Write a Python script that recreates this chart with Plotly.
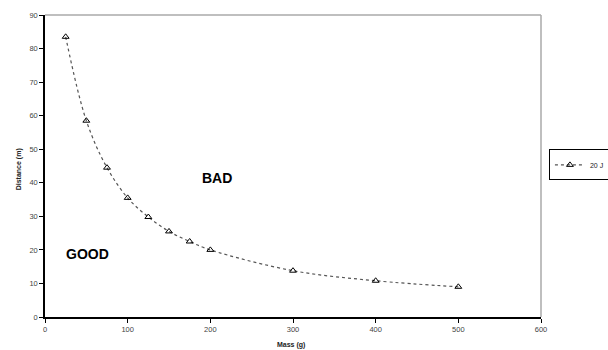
import plotly.graph_objects as go

mass = [25, 50, 75, 100, 125, 150, 175, 200, 300, 400, 500]
distance = [83.5, 58.5, 44.5, 35.5, 29.8, 25.5, 22.5, 20.0, 13.8, 10.8, 9.0]
series_name = "20 J"
x_ticks = [0, 100, 200, 300, 400, 500, 600]
y_ticks = [0, 10, 20, 30, 40, 50, 60, 70, 80, 90]

fig = go.Figure()
fig.add_trace(go.Scatter(
    x=mass, y=distance, name=series_name, mode="lines+markers",
    line=dict(color="#555", width=1.2, dash="dot", shape="spline", smoothing=1.0),
    marker=dict(symbol="triangle-up-open", size=6, color="black", line=dict(width=1)),
))

font = "Liberation Sans, Arial, sans-serif"
fig.update_layout(
    width=608, height=350,
    margin=dict(l=45, r=67, t=15, b=33, autoexpand=False),
    paper_bgcolor="white", plot_bgcolor="white",
    font=dict(family=font, size=7, color="#333"),
    showlegend=True,
    legend=dict(x=1.016, y=0.555, xanchor="left", yanchor="top",
                bordercolor="black", borderwidth=1, bgcolor="white",
                font=dict(size=7, color="#222"), itemwidth=30,
                tracegroupgap=0),
    xaxis=dict(range=[0, 600], tickvals=x_ticks, showgrid=False, zeroline=False,
               showline=True, linecolor="black", linewidth=1.5,
               ticks="outside", ticklen=4, tickcolor="black",
               tickfont=dict(size=7.5, color="#444")),
    yaxis=dict(range=[0, 90], tickvals=y_ticks, showgrid=False, zeroline=False,
               showline=True, linecolor="black", linewidth=1.5,
               ticks="outside", ticklen=4, tickcolor="black",
               tickfont=dict(size=7.5, color="#444")),
    shapes=[
        dict(type="line", xref="paper", yref="paper", x0=0, x1=1, y0=1, y1=1,
             line=dict(color="#aaa", width=1.5)),
        dict(type="line", xref="paper", yref="paper", x0=1, x1=1, y0=0, y1=1,
             line=dict(color="#aaa", width=1.5)),
    ],
    annotations=[
        dict(text="<b>BAD</b>", x=208, y=41.4, xref="x", yref="y", showarrow=False,
             font=dict(size=14, color="black", family=font)),
        dict(text="<b>GOOD</b>", x=52, y=18.8, xref="x", yref="y", showarrow=False,
             font=dict(size=14, color="black", family=font)),
        dict(text="<b>Mass (g)</b>", x=0.495, y=-0.092, xref="paper", yref="paper",
             showarrow=False, yanchor="middle", font=dict(size=7, color="#222", family=font)),
        dict(text="<b>Distance (m)</b>", x=-0.064, y=0.49, xref="paper", yref="paper",
             showarrow=False, textangle=-90, font=dict(size=7, color="#222", family=font)),
    ],
)

fig.write_html("out.html")
